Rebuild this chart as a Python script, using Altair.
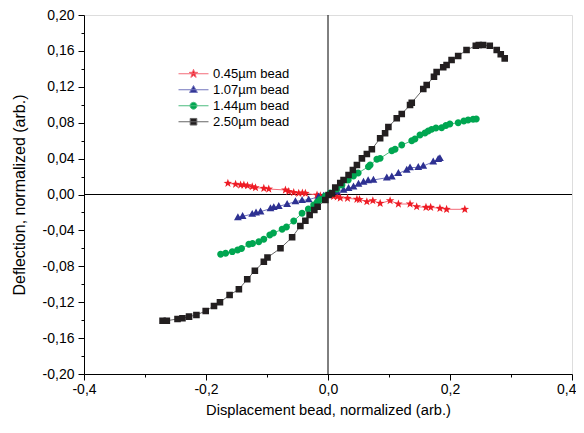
import altair as alt
import pandas as pd

series_names = ["0.45µm bead", "1.07µm bead", "1.44µm bead", "2.50µm bead"]

red_x = [-0.1641, -0.1515, -0.1433, -0.1379, -0.1319, -0.1242, -0.1188, -0.1052, -0.0971, -0.0698,
         -0.0644, -0.0562, -0.0480, -0.0420, -0.0371, -0.0180, -0.0126, 0.0092, 0.0152, 0.0201,
         0.0320, 0.0474, 0.0516, 0.0637, 0.0735, 0.0855, 0.1018, 0.1154, 0.1345, 0.1454,
         0.1606, 0.1683, 0.1835, 0.1944, 0.2243]
red_y = [0.0125, 0.0114, 0.0106, 0.0106, 0.0098, 0.0087, 0.0076, 0.0069, 0.0061, 0.0050,
         0.0033, 0.0022, 0.0014, 0.0017, 0.0013, -0.0006, -0.0013, -0.0022, -0.0025, -0.0039,
         -0.0042, -0.0053, -0.0056, -0.0080, -0.0069, -0.0098, -0.0069, -0.0106, -0.0106, -0.0136,
         -0.0143, -0.0143, -0.0154, -0.0165, -0.0165]

blue_x = [-0.1477, -0.1400, -0.1242, -0.1180, -0.1106, -0.0943, -0.0889, -0.0807, -0.0670, -0.0534,
          -0.0425, -0.0317, -0.0154, -0.0072, 0.0005, 0.0147, 0.0255, 0.0337, 0.0418, 0.0500,
          0.0582, 0.0658, 0.0745, 0.0964, 0.1046, 0.1154, 0.1291, 0.1345, 0.1480, 0.1562,
          0.1725, 0.1807, 0.1835]
blue_y = [-0.0256, -0.0243, -0.0219, -0.0204, -0.0192, -0.0156, -0.0143, -0.0131, -0.0108, -0.0078,
          -0.0066, -0.0057, -0.0025, -0.0017, 0.0000, 0.0031, 0.0050, 0.0069, 0.0087, 0.0117,
          0.0139, 0.0156, 0.0162, 0.0187, 0.0198, 0.0236, 0.0273, 0.0299, 0.0303, 0.0317,
          0.0365, 0.0392, 0.0403]

green_x = [-0.1760, -0.1678, -0.1569, -0.1482, -0.1417, -0.1297, -0.1237, -0.1134, -0.1052, -0.0954,
           -0.0894, -0.0752, -0.0681, -0.0562, -0.0425, -0.0322, -0.0235, -0.0175, -0.0126, -0.0044,
           0.0038, 0.0147, 0.0229, 0.0332, 0.0418, 0.0495, 0.0663, 0.0691, 0.0801, 0.0855,
           0.1046, 0.1100, 0.1209, 0.1373, 0.1426, 0.1508, 0.1590, 0.1644, 0.1699, 0.1770,
           0.1863, 0.1933, 0.1998, 0.2134, 0.2227, 0.2297, 0.2379, 0.2431]
green_y = [-0.0666, -0.0655, -0.0637, -0.0618, -0.0602, -0.0555, -0.0546, -0.0526, -0.0499, -0.0451,
           -0.0429, -0.0388, -0.0362, -0.0295, -0.0209, -0.0162, -0.0117, -0.0084, -0.0056, -0.0017,
           0.0017, 0.0061, 0.0106, 0.0162, 0.0206, 0.0240, 0.0310, 0.0329, 0.0392, 0.0403,
           0.0488, 0.0504, 0.0551, 0.0599, 0.0618, 0.0663, 0.0685, 0.0707, 0.0726, 0.0741,
           0.0744, 0.0769, 0.0785, 0.0800, 0.0819, 0.0830, 0.0838, 0.0841]

black_x = [-0.2712, -0.2642, -0.2467, -0.2386, -0.2278, -0.2157, -0.2005, -0.1869, -0.1771, -0.1613,
           -0.1461, -0.1324, -0.1199, -0.1052, -0.0992, -0.0779, -0.0588, -0.0453, -0.0371, -0.0301,
           -0.0224, -0.0170, -0.0044, 0.0010, 0.0065, 0.0119, 0.0201, 0.0255, 0.0337, 0.0408,
           0.0474, 0.0556, 0.0637, 0.0719, 0.0855, 0.0936, 0.0990, 0.1127, 0.1209, 0.1345,
           0.1373, 0.1562, 0.1618, 0.1737, 0.1781, 0.1889, 0.1944, 0.2026, 0.2134, 0.2271,
           0.2423, 0.2472, 0.2542, 0.2652, 0.2766, 0.2832, 0.2897]
black_y = [-0.1406, -0.1406, -0.1387, -0.1379, -0.1361, -0.1342, -0.1298, -0.1242, -0.1201, -0.1120,
           -0.1056, -0.0945, -0.0849, -0.0749, -0.0702, -0.0599, -0.0477, -0.0351, -0.0292, -0.0228,
           -0.0173, -0.0136, -0.0061, -0.0006, 0.0013, 0.0078, 0.0128, 0.0162, 0.0217, 0.0273,
           0.0329, 0.0403, 0.0451, 0.0504, 0.0626, 0.0682, 0.0752, 0.0849, 0.0897, 0.0997,
           0.1023, 0.1175, 0.1220, 0.1312, 0.1365, 0.1417, 0.1443, 0.1498, 0.1543, 0.1610,
           0.1658, 0.1665, 0.1665, 0.1658, 0.1610, 0.1562, 0.1517]

x_ticks = [-0.4, -0.3, -0.2, -0.1, 0.0, 0.1, 0.2, 0.3, 0.4]
y_ticks = [-0.20, -0.18, -0.16, -0.14, -0.12, -0.10, -0.08, -0.06, -0.04, -0.02, 0.0,
           0.02, 0.04, 0.06, 0.08, 0.10, 0.12, 0.14, 0.16, 0.18, 0.20]

marker_colors = ["#ee1c25", "#2e3192", "#00a651", "#231f20"]
line_colors = ["#f36b78", "#7275bd", "#4dbd7f", "#666666"]

LINE = "M-1,0L1,0"
STAR = (LINE + "M0,-0.3L0.0717,-0.0988L0.2853,-0.0927L0.1160,0.0377L0.1763,0.2427L0,0.122"
        "L-0.1763,0.2427L-0.1160,0.0377L-0.2853,-0.0927L-0.0717,-0.0988Z")
TRI = LINE + "M0,-0.28L0.26,0.18L-0.26,0.18Z"
CIRC = LINE + "M-0.23,0A0.23,0.23,0,1,1,0.23,0A0.23,0.23,0,1,1,-0.23,0Z"
SQ = LINE + "M-0.22,-0.22L0.22,-0.22L0.22,0.22L-0.22,0.22Z"
shapes = [STAR, TRI, CIRC, SQ]

rows = []
for name, xs, ys in zip(series_names,
                        [red_x, blue_x, green_x, black_x],
                        [red_y, blue_y, green_y, black_y]):
    for i, (xv, yv) in enumerate(zip(xs, ys)):
        rows.append({"series": name, "x": xv, "y": yv, "order": i})
df = pd.DataFrame(rows)
zero = pd.DataFrame({"v": [0.0]})

FONT = "Liberation Sans"
x_scale = alt.Scale(domain=[-0.4, 0.4], nice=False, zero=False)
y_scale = alt.Scale(domain=[-0.2, 0.2], nice=False, zero=False)

x_axis = alt.Axis(
    values=x_ticks, grid=False, title="Displacement bead, normalized (arb.)",
    domainColor="black", domainWidth=1, tickColor="black", tickWidth=1,
    tickSize={"condition": {"test": "round(datum.value*10) % 2 == 0", "value": 6}, "value": 3},
    labelExpr="round(datum.value*10) % 2 == 0 ? (datum.value < -0.0001 ? '-' : '') + replace(format(abs(datum.value), '.1f'), '.', ',') : ''",
    labelAlign={"condition": {"test": "datum.value > 0.35", "value": "right"}, "value": "center"},
    labelOffset={"condition": {"test": "datum.value > 0.35", "value": 4}, "value": 0},
    labelFlush=False, labelOverlap=False, labelFont=FONT, labelFontSize=14, labelColor="black",
    labelPadding=2, titleFont=FONT, titleFontSize=14.7, titleFontWeight="normal", titleColor="black",
    titlePadding=6,
)
y_axis = alt.Axis(
    values=y_ticks, grid=False, title="Deflection, normalized (arb.)",
    domainColor="black", domainWidth=1, tickColor="black", tickWidth=1,
    tickSize={"condition": {"test": "round(datum.value*50) % 2 == 0", "value": 6}, "value": 3},
    labelExpr="round(datum.value*50) % 2 == 0 ? (datum.value < -0.0001 ? '-' : '') + replace(format(abs(datum.value), '.2f'), '.', ',') : ''",
    labelFlush=False, labelOverlap=False, labelFont=FONT, labelFontSize=14, labelColor="black",
    labelPadding=4, titleFont=FONT, titleFontSize=16, titleFontWeight="normal", titleColor="black",
    titlePadding=15,
)

legend = alt.Legend(
    title=None, orient="none", legendX=94, legendY=51, padding=0,
    symbolSize=900, symbolStrokeWidth=1, clipHeight=15.5, rowPadding=0,
    labelFont=FONT, labelFontSize=13, labelColor="black", labelOffset=4,
)

zero_v = alt.Chart(zero).mark_rule(color="black", strokeWidth=1).encode(
    x=alt.X("v:Q", scale=x_scale, axis=x_axis))
zero_h = alt.Chart(zero).mark_rule(color="black", strokeWidth=1).encode(
    y=alt.Y("v:Q", scale=y_scale, axis=y_axis))

# reversed domain keeps this (hidden) legend from merging with the points legend
lines = alt.Chart(df).mark_line(strokeWidth=1).encode(
    x=alt.X("x:Q", scale=x_scale, axis=x_axis),
    y=alt.Y("y:Q", scale=y_scale, axis=y_axis),
    color=alt.Color("series:N", scale=alt.Scale(domain=series_names[::-1], range=line_colors[::-1]),
                    legend=None),
    detail="series:N",
    order="order:Q",
)

points = alt.Chart(df).mark_point(filled=True, size=900, strokeWidth=0, opacity=1).encode(
    x=alt.X("x:Q", scale=x_scale, axis=x_axis),
    y=alt.Y("y:Q", scale=y_scale, axis=y_axis),
    fill=alt.Fill("series:N", scale=alt.Scale(domain=series_names, range=marker_colors), legend=legend),
    stroke=alt.Stroke("series:N", scale=alt.Scale(domain=series_names, range=line_colors), legend=legend),
    shape=alt.Shape("series:N", scale=alt.Scale(domain=series_names, range=shapes), legend=legend),
)

chart = alt.layer(zero_h, zero_v, lines, points).properties(
    width=488, height=359,
    autosize=alt.AutoSizeParams(type="none"),
    padding={"left": 76, "top": 7, "right": 4, "bottom": 51},
).configure_view(stroke=None).configure(font=FONT, background="white")

chart.save("out.html", embed_options={"renderer": "svg", "actions": False})
